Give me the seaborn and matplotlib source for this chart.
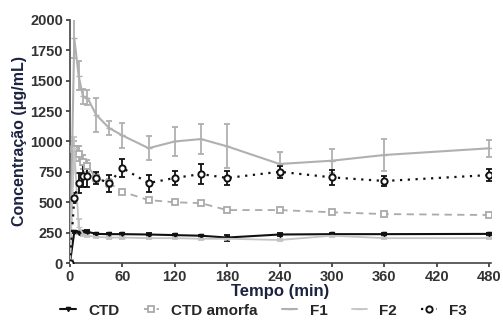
import numpy as np
import pandas as pd
import matplotlib
matplotlib.use('Agg')
import matplotlib.pyplot as plt
import seaborn as sns

# tempos de coleta (min)
tempo = [0, 5, 10, 15, 20, 30, 45, 60, 90, 120, 150, 180, 240, 300, 360, 480]

ctd = [0, 255, 250, 255, 258, 240, 238, 238, 235, 230, 225, 210, 235, 238, 238, 240]
ctd_err = [0, 10, 10, 10, 10, 10, 10, 10, 10, 10, 10, 25, 10, 10, 10, 10]

amorfa = [0, 940, 900, 830, 800, 700, 658, 587, 518, 500, 493, 436, 436, 418, 403, 395]
amorfa_err = [0, 60, 60, 60, 50, 30, 30, 15, 15, 15, 15, 15, 15, 15, 15, 15]

f1 = [0, 1850, 1540, 1370, 1360, 1220, 1110, 1050, 945, 1000, 1020, 960, 815, 842, 889, 944]
f1_err = [0, 160, 120, 60, 60, 140, 60, 100, 100, 120, 120, 180, 100, 100, 130, 70]

f2 = [0, 950, 300, 240, 225, 215, 210, 210, 205, 205, 200, 200, 190, 225, 205, 205]
f2_err = [0, 90, 60, 20, 10, 10, 10, 10, 10, 10, 10, 10, 10, 10, 10, 10]

f3 = [0, 535, 658, 716, 716, 700, 658, 782, 658, 700, 732, 700, 751, 705, 675, 724]
f3_err = [0, 40, 80, 90, 90, 50, 70, 70, 70, 60, 80, 60, 50, 60, 40, 50]

sns.set_theme(style='ticks')
plt.rcParams['font.family'] = ['Liberation Sans', 'DejaVu Sans']

fig, ax = plt.subplots(figsize=(5.03, 3.26), dpi=100)
fig.subplots_adjust(left=0.139, right=0.976, top=0.939, bottom=0.193)

series = [
    ('CTD', ctd, ctd_err, dict(color='#111111', marker='v', markersize=3, linestyle='-', linewidth=1.5, mfc='#111111', mec='#111111')),
    ('CTD amorfa', amorfa, amorfa_err, dict(color='#aaaaaa', marker='s', markersize=4.5, linestyle=(0, (4, 3)), linewidth=1.3, mfc='white', mec='#aaaaaa', mew=1.3)),
    ('F1', f1, f1_err, dict(color='#b0b0b0', marker='_', markersize=5, linestyle='-', linewidth=1.5, mfc='#b0b0b0', mec='#b0b0b0')),
    ('F2', f2, f2_err, dict(color='#c4c4c4', marker='_', markersize=5, linestyle='-', linewidth=1.3, mfc='#c4c4c4', mec='#c4c4c4')),
    ('F3', f3, f3_err, dict(color='#111111', marker='o', markersize=4.5, linestyle=(0, (1, 2.5)), linewidth=1.6, mfc='white', mec='#111111', mew=1.4)),
]

for nome, vals, err, st in series:
    ax.errorbar(tempo, vals, yerr=err, fmt='none', ecolor=st['color'], elinewidth=1.3, capsize=2.5, capthick=1.3, zorder=2)
    sns.lineplot(x=tempo, y=vals, ax=ax, label=nome, color=st['color'], marker=st['marker'],
                 markersize=st['markersize'], linestyle=st['linestyle'], linewidth=st['linewidth'],
                 markerfacecolor=st['mfc'], markeredgecolor=st['mec'], markeredgewidth=st.get('mew', 1.0),
                 zorder=3)

ax.set_xlim(0, 482)
ax.set_ylim(0, 2000)
ax.set_xticks(np.arange(0, 481, 60))
ax.set_yticks(np.arange(0, 2001, 250))
ax.tick_params(axis='both', labelsize=10.5, colors='#333333', width=1.2, length=3, pad=2)
for lbl in ax.get_xticklabels() + ax.get_yticklabels():
    lbl.set_fontweight('bold')
sns.despine(ax=ax)
ax.spines['left'].set_color('#444444')
ax.spines['bottom'].set_color('#444444')
ax.spines['left'].set_linewidth(1.2)
ax.spines['bottom'].set_linewidth(1.2)

ax.set_xlabel('Tempo (min)', fontsize=12, fontweight='bold', color='#1c2340', labelpad=0)
ax.set_ylabel('Concentração (μg/mL)', fontsize=11.5, fontweight='bold', color='#1c2340', labelpad=2)

ax.legend(loc='center', bbox_to_anchor=(0.46, -0.195), ncol=5, frameon=False,
          prop={'weight': 'bold', 'size': 11}, handlelength=1.0, columnspacing=1.6,
          handletextpad=0.8)

plt.savefig('out.png', dpi=100)
